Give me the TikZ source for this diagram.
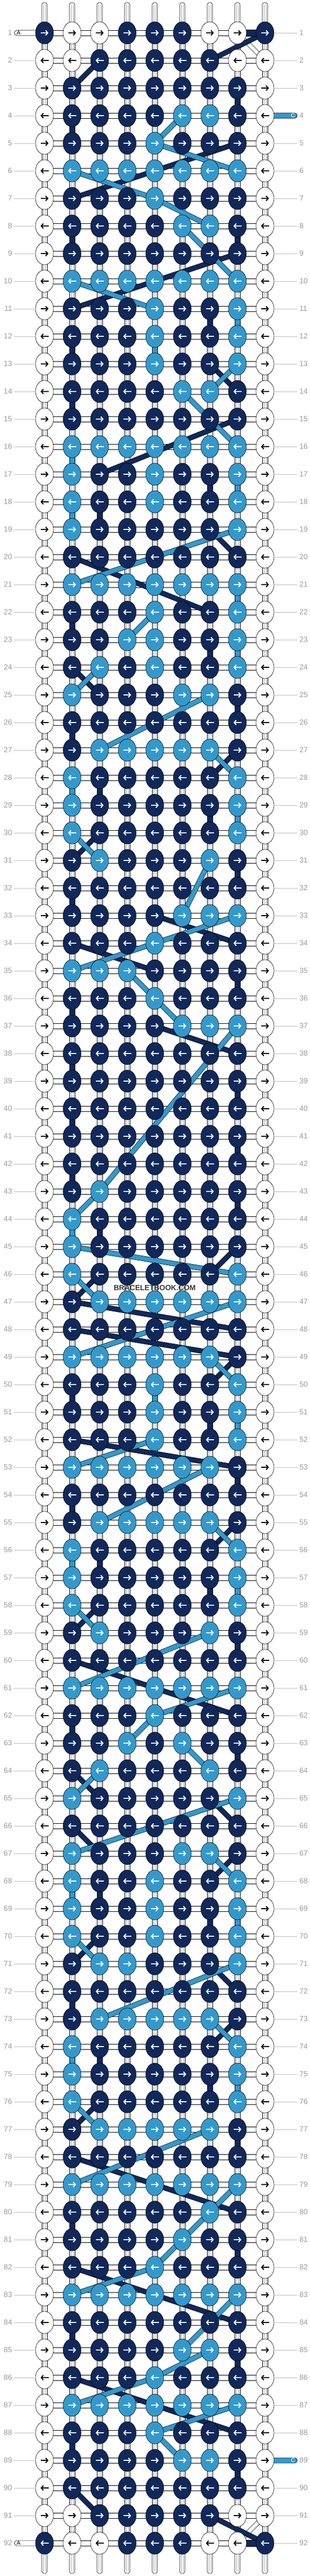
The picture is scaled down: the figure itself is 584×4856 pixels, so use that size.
\documentclass[tikz,border=0pt]{standalone}
\usepackage{fontspec}
\setmainfont{Liberation Sans}
\usetikzlibrary{arrows.meta,calc,shapes.geometric}
\definecolor{kD}{HTML}{10285A}
\definecolor{kL}{HTML}{3399CC}
\definecolor{kW}{HTML}{FFFFFF}
\definecolor{aD}{HTML}{FFFFFF}
\definecolor{aL}{HTML}{FFFFFF}
\definecolor{aW}{HTML}{000000}
\definecolor{lblgray}{HTML}{9A9A9A}
\definecolor{linegray}{HTML}{BDBDBD}
\definecolor{innergray}{HTML}{AAAAAA}
\tikzset{
 knot/.style={ellipse, minimum width=34pt, minimum height=42pt, inner sep=0pt, draw=black, line width=0.6pt},
 arr/.style={line width=2pt, -{Straight Barb[length=4pt,width=9pt]}},
 rowlbl/.style={font=\fontsize{14}{14}\selectfont, text=lblgray, inner sep=0pt},
 strD/.style={draw=kD, line width=8.4pt, preaction={draw=black, line width=9.8pt}},
 strL/.style={draw=kL, line width=8.4pt, preaction={draw=black, line width=9.8pt}},
 strW/.style={draw=white, line width=7pt, preaction={draw=black, line width=8.4pt}},
 linkbox/.style={draw=black, line width=0.6pt},
}
\begin{document}
\begin{tikzpicture}[x=1pt,y=-1pt]
\useasboundingbox (0,0) rectangle (584,4856);
\fill[white] (0,0) rectangle (584,4856);
\foreach \r in {1,...,92}{\foreach \c in {1,...,9}{\coordinate (p-\r-\c) at ({32+52*\c},{10+52*\r});}}
% labels and guide lines
\foreach \r in {1,...,92}{
  \node[rowlbl, anchor=east] (ll-\r) at (23,{10+52*\r}) {\r};
  \node[rowlbl, anchor=west] (rl-\r) at (565,{10+52*\r}) {\r};
  \draw[linegray, line width=1pt] (26,{10+52*\r}) -- (p-\r-1);
  \draw[linegray, line width=1pt] (p-\r-9) -- (561,{10+52*\r});
}
% top and bottom stubs
\foreach \c in {1,...,9}{
  \pgfmathsetmacro\xx{32+52*\c}
  \path[linkbox, fill=white, rounded corners=4pt] ({\xx-5},5) rectangle ({\xx+5},62);
  \draw[innergray, line width=0.7pt] ({\xx-2},9) -- ({\xx-2},62) ({\xx+2},9) -- ({\xx+2},62);
  \path[linkbox, fill=white, rounded corners=4pt] ({\xx-5},4794) rectangle ({\xx+5},4851);
  \draw[innergray, line width=0.7pt] ({\xx-2},4794) -- ({\xx-2},4847) ({\xx+2},4794) -- ({\xx+2},4847);
}
% horizontal strips
\foreach \r in {1,...,92}{
  \path[linkbox, fill=white] ($(p-\r-1)+(0,-5)$) rectangle ($(p-\r-9)+(0,5)$);
}
% vertical links
\foreach \r in {1,...,91}{\pgfmathtruncatemacro\rn{\r+1}
 \foreach \c in {1,...,9}{
  \path[linkbox, fill=white] ($(p-\r-\c)+(-5,0)$) rectangle ($(p-\rn-\c)+(5,0)$);
  \draw[innergray, line width=0.7pt] ($(p-\r-\c)+(-2,0)$) -- ($(p-\rn-\c)+(-2,0)$) ($(p-\r-\c)+(2,0)$) -- ($(p-\rn-\c)+(2,0)$);
 }}
% A strings
\foreach \r in {1,92}{
  \path[linkbox, fill=white, rounded corners=5pt] (27,{5+52*\r}) rectangle ($(p-\r-1)+(0,5)$);
  \node[font=\fontsize{11}{11}\selectfont, inner sep=0pt] (a-\r) at (35,{10+52*\r}) {A};
}
% C strings
\foreach \r in {4,89}{
  \path[linkbox, fill=kL, rounded corners=5pt] ($(p-\r-9)+(0,-5)$) rectangle (561,{15+52*\r});
  \node[font=\fontsize{11}{11}\selectfont, text=white, inner sep=0pt] (c-\r) at (553,{10+52*\r}) {C};
}
% string lines
\foreach \a/\b in {1-8/2-9, 91-9/92-8}{\draw[strW] (p-\a) -- (p-\b);}
\foreach \a/\b in {1-9/2-7, 2-3/3-2, 5-8/7-2, 9-8/11-2, 13-7/14-8, 15-8/17-3, 19-7/20-8, 20-2/22-7, 24-2/25-3, 27-8/28-7, 30-3/31-2, 33-5/34-8, 34-2/35-5, 37-5/38-8, 45-8/46-7, 46-3/47-2, 47-2/48-8, 48-2/49-8, 49-8/50-7, 52-2/53-8, 55-8/56-7, 58-3/59-2, 60-2/62-8, 64-2/65-3, 65-7/66-8, 66-2/67-3, 67-8/68-7, 70-3/71-2, 71-7/72-8, 73-8/74-7, 76-3/77-2, 78-2/80-8, 82-2/84-8, 86-2/88-8, 90-2/91-3, 91-7/92-9}{\draw[strD] (p-\a) -- (p-\b);}
\foreach \a/\b in {4-6/5-5, 5-5/6-8, 6-2/7-5, 7-5/8-7, 8-6/10-8, 10-2/11-5, 13-8/14-7, 14-6/16-8, 19-8/21-2, 22-5/23-4, 24-3/25-2, 25-7/27-3, 27-7/28-8, 30-2/31-3, 31-7/33-6, 33-8/34-5, 34-5/35-2, 35-4/36-5, 36-5/37-6, 37-8/43-3, 43-3/44-2, 45-2/46-8, 46-2/47-3, 47-8/49-2, 49-7/50-8, 52-5/53-2, 53-7/55-3, 55-7/56-8, 58-2/59-3, 59-7/61-2, 61-8/62-5, 62-5/63-4, 63-6/64-7, 64-3/65-2, 65-8/67-2, 67-7/68-8, 70-2/71-3, 71-8/73-3, 73-7/74-8, 76-2/77-3, 77-7/79-2, 79-8/80-7, 80-7/82-5, 82-5/83-2, 83-8/85-6, 85-7/86-5, 86-5/87-2, 87-8/88-5, 88-5/89-6}{\draw[strL] (p-\a) -- (p-\b);}
% coloured links
\foreach \a/\b in {1-8/1-9, 92-8/92-9}{\path[linkbox, fill=kD] ($(p-\a)+(0,-6)$) rectangle ($(p-\b)+(0,6)$);}
\foreach \a/\b in {3-8/4-8, 4-2/5-2, 8-8/9-8, 8-2/9-2, 11-7/12-7, 12-2/13-2, 14-2/15-2, 17-7/18-7, 18-3/19-3, 22-2/23-2, 23-7/24-7, 25-8/26-8, 26-2/27-2, 28-3/29-3, 29-7/30-7, 31-8/32-8, 32-2/33-2, 35-8/36-8, 36-2/37-2, 38-2/39-2, 39-8/40-8, 40-2/41-2, 41-8/42-8, 42-2/43-2, 43-8/44-8, 44-3/45-3, 50-2/51-2, 51-7/52-7, 53-8/54-8, 54-2/55-2, 56-3/57-3, 57-7/58-7, 59-8/60-8, 62-2/63-2, 63-8/64-8, 68-3/69-3, 69-7/70-7, 72-2/73-2, 74-3/75-3, 75-7/76-7, 77-8/78-8, 80-2/81-2, 81-8/82-8, 84-2/85-2, 85-8/86-8, 88-2/89-2, 89-8/90-8}{\path[linkbox, fill=kD] ($(p-\a)+(-5,0)$) rectangle ($(p-\b)+(5,0)$);}
\foreach \a/\b in {11-8/12-8, 12-5/13-5, 16-2/17-2, 17-8/18-8, 18-2/19-2, 21-8/22-8, 23-8/24-8, 28-2/29-2, 29-8/30-8, 44-2/45-2, 50-5/51-5, 51-8/52-8, 56-2/57-2, 57-8/58-8, 68-2/69-2, 69-8/70-8, 74-2/75-2, 75-8/76-8}{\path[linkbox, fill=kL] ($(p-\a)+(-5,0)$) rectangle ($(p-\b)+(5,0)$);}
% knots
\foreach \r/\row in {
1/{D,W,W,D,D,D,W,W,D}, 2/{W,W,D,D,D,D,D,W,W}, 3/{W,D,D,D,D,D,D,D,W}, 4/{W,D,D,D,D,L,L,D,W},
5/{W,D,D,D,L,D,D,D,W}, 6/{W,L,L,L,L,L,L,L,W}, 7/{W,D,D,D,L,D,D,D,W}, 8/{W,D,D,D,D,L,L,D,W},
9/{W,D,D,D,D,D,D,D,W}, 10/{W,L,L,L,L,L,L,L,W}, 11/{W,D,D,D,L,D,D,L,W}, 12/{W,D,D,D,L,D,D,L,W},
13/{W,D,D,D,L,D,D,L,W}, 14/{W,D,D,D,D,L,L,D,W}, 15/{W,D,D,D,D,D,D,D,W}, 16/{W,L,L,L,L,L,L,L,W},
17/{W,L,D,D,L,D,D,L,W}, 18/{W,L,D,D,L,D,D,L,W}, 19/{W,L,D,D,D,D,D,L,W}, 20/{W,D,D,D,D,D,D,D,W},
21/{W,L,L,L,L,L,L,L,W}, 22/{W,D,D,D,L,D,D,L,W}, 23/{W,D,D,L,L,D,D,L,W}, 24/{W,D,L,D,L,D,D,L,W},
25/{W,L,D,D,D,L,L,D,W}, 26/{W,D,D,D,D,D,D,D,W}, 27/{W,D,L,L,L,L,L,D,W}, 28/{W,L,D,D,D,D,D,L,W},
29/{W,L,D,D,D,D,D,L,W}, 30/{W,L,D,D,D,D,D,L,W}, 31/{W,D,L,D,D,D,L,D,W}, 32/{W,D,D,D,D,D,D,D,W},
33/{W,D,D,D,D,L,L,L,W}, 34/{W,D,D,D,L,D,D,D,W}, 35/{W,L,L,L,D,D,D,D,W}, 36/{W,D,D,D,L,D,D,D,W},
37/{W,D,D,D,D,L,L,L,W}, 38/{W,D,D,D,D,D,D,D,W}, 39/{W,D,D,D,D,D,D,D,W}, 40/{W,D,D,D,D,D,D,D,W},
41/{W,D,D,D,D,D,D,D,W}, 42/{W,D,D,D,D,D,D,D,W}, 43/{W,D,L,D,D,D,D,D,W}, 44/{W,L,D,D,D,D,D,D,W},
45/{W,L,D,D,D,D,D,D,W}, 46/{W,L,D,D,D,D,D,L,W}, 47/{W,D,L,L,L,L,L,L,W}, 48/{W,D,D,D,D,D,D,D,W},
49/{W,L,L,L,L,L,L,D,W}, 50/{W,D,D,D,L,D,D,L,W}, 51/{W,D,D,D,L,D,D,L,W}, 52/{W,D,D,D,L,D,D,L,W},
53/{W,L,L,L,L,L,L,D,W}, 54/{W,D,D,D,D,D,D,D,W}, 55/{W,D,L,L,L,L,L,D,W}, 56/{W,L,D,D,D,D,D,L,W},
57/{W,L,D,D,D,D,D,L,W}, 58/{W,L,D,D,D,D,D,L,W}, 59/{W,D,L,D,D,D,L,D,W}, 60/{W,D,D,D,D,D,D,D,W},
61/{W,L,L,L,L,L,L,L,W}, 62/{W,D,D,D,L,D,D,D,W}, 63/{W,D,D,L,D,L,D,D,W}, 64/{W,D,L,D,D,D,L,D,W},
65/{W,L,D,D,D,D,D,L,W}, 66/{W,D,D,D,D,D,D,D,W}, 67/{W,L,D,D,D,L,L,D,W}, 68/{W,L,D,D,L,D,D,L,W},
69/{W,L,D,D,L,D,D,L,W}, 70/{W,L,D,D,L,D,D,L,W}, 71/{W,D,L,L,D,D,D,L,W}, 72/{W,D,D,D,D,D,D,D,W},
73/{W,D,L,L,L,L,L,D,W}, 74/{W,L,D,D,D,D,D,L,W}, 75/{W,L,D,D,D,D,D,L,W}, 76/{W,L,D,D,D,D,D,L,W},
77/{W,D,L,L,L,L,L,D,W}, 78/{W,D,D,D,D,D,D,D,W}, 79/{W,L,L,L,L,L,L,L,W}, 80/{W,D,D,D,D,D,L,D,W},
81/{W,D,D,D,D,L,D,D,W}, 82/{W,D,D,D,L,D,D,D,W}, 83/{W,L,L,L,L,L,L,L,W}, 84/{W,D,D,D,D,D,D,D,W},
85/{W,D,D,D,D,L,L,D,W}, 86/{W,D,D,D,L,D,D,D,W}, 87/{W,L,L,L,L,L,L,L,W}, 88/{W,D,D,D,L,D,D,D,W},
89/{W,D,D,D,D,L,L,D,W}, 90/{W,D,D,D,D,D,D,D,W}, 91/{W,W,D,D,D,D,D,W,W}, 92/{D,W,W,D,D,D,W,W,D}}{
  \pgfmathsetmacro\dx{ifthenelse(mod(\r,2)==1,7.5,-7.5)}
  \foreach \k [count=\c] in \row {
    \node[knot, fill=k\k] (k-\r-\c) at (p-\r-\c) {};
    \draw[arr, draw=a\k] ($(p-\r-\c)+(-\dx,0)$) -- ($(p-\r-\c)+(\dx,0)$);
  }
}
\node[font=\bfseries\fontsize{14}{14}\selectfont, text=black!78, inner sep=0pt] (wm) at (292,2428) {BRACELETBOOK.COM};
\end{tikzpicture}
\end{document}
